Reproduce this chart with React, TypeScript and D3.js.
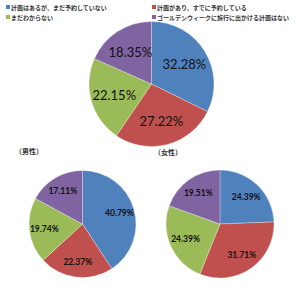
import React from "react";
import * as d3 from "d3";

const categories = [
  "計画はあるが、まだ予約していない",
  "計画があり、すでに予約している",
  "まだわからない",
  "ゴールデンウィークに旅行に出かける計画はない",
];
const colors = ["#4F81BD", "#C0504D", "#9BBB59", "#8064A2"];
const totalValues = [32.28, 27.22, 22.15, 18.35];
const maleValues = [40.79, 22.37, 19.74, 17.11];
const femaleValues = [24.39, 31.71, 24.39, 19.51];
const subTitles = ["（男性）", "（女性）"];

const W = 300;
const H = 286;

function Pie({ values, cx, cy, r, labelRatio, fontSize, fontWeight }: any) {
  const pie = d3.pie<number>().sort(null).value((d) => d);
  const arcs = pie(values);
  const arc = d3.arc<d3.PieArcDatum<number>>().innerRadius(0).outerRadius(r);
  const labelArc = d3
    .arc<d3.PieArcDatum<number>>()
    .innerRadius(r * labelRatio)
    .outerRadius(r * labelRatio);
  return (
    <g transform={`translate(${cx},${cy})`}>
      {arcs.map((a, i) => (
        <path key={i} d={arc(a) || ""} fill={colors[i]} stroke="#fff" strokeWidth={0.3} />
      ))}
      {arcs.map((a, i) => {
        const [x, y] = labelArc.centroid(a);
        return (
          <text
            key={"t" + i}
            x={x}
            y={y}
            textAnchor="middle"
            dominantBaseline="central"
            fontSize={fontSize}
            fontWeight={fontWeight}
            fill="#111"
            fontFamily="Lato, 'Liberation Sans', sans-serif"
          >
            {a.data.toFixed(2)}%
          </text>
        );
      })}
    </g>
  );
}

export default function App() {
  const legendPos = [
    { x: 6, y: 7 },
    { x: 152, y: 7 },
    { x: 6, y: 17 },
    { x: 152, y: 17 },
  ];
  return (
    <svg
      width={W}
      height={H}
      style={{ position: "absolute", left: 0, top: 0, background: "#fff" }}
    >
      <rect width={W} height={H} fill="#fff" />
      {categories.map((c, i) => (
        <g key={i}>
          <rect x={legendPos[i].x} y={legendPos[i].y - 2} width={4} height={4} fill={colors[i]} />
          <text
            x={legendPos[i].x + 5}
            y={legendPos[i].y}
            dominantBaseline="central"
            fontSize={6}
            fontWeight="bold"
            fill="#333"
            fontFamily="'Noto Sans CJK JP', sans-serif"
          >
            {c}
          </text>
        </g>
      ))}
      <Pie values={totalValues} cx={151.5} cy={84} r={62.5} labelRatio={0.62} fontSize={13} fontWeight="normal" />
      <Pie values={maleValues} cx={82.5} cy={224} r={53.5} labelRatio={0.72} fontSize={8.5} fontWeight="bold" />
      <Pie values={femaleValues} cx={220} cy={224} r={54} labelRatio={0.7} fontSize={8.5} fontWeight="bold" />
      <text x={15} y={151} dominantBaseline="central" fontSize={7} fontWeight="bold" fill="#333" fontFamily="'Noto Sans CJK JP', sans-serif">
        {subTitles[0]}
      </text>
      <text x={154} y={152} dominantBaseline="central" fontSize={7} fontWeight="bold" fill="#333" fontFamily="'Noto Sans CJK JP', sans-serif">
        {subTitles[1]}
      </text>
    </svg>
  );
}
